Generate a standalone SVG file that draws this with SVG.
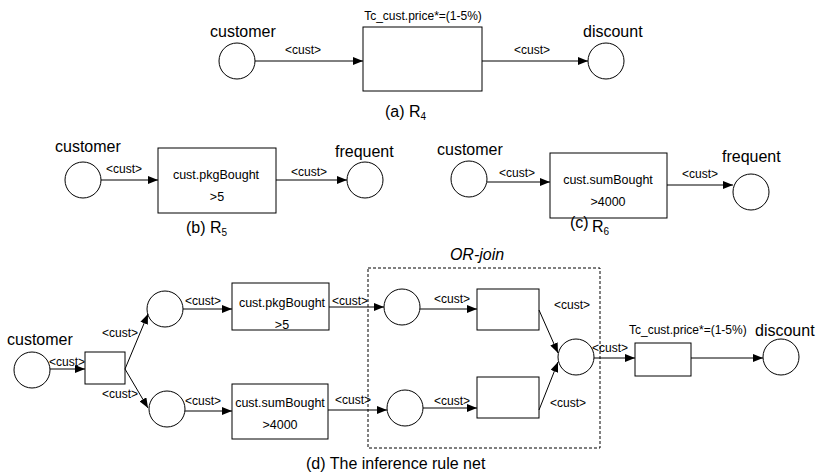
<svg xmlns="http://www.w3.org/2000/svg" width="820" height="475" viewBox="0 0 820 475">
<defs>
<marker id="ah" viewBox="0 0 10 8" refX="10" refY="4" markerWidth="10" markerHeight="8" markerUnits="userSpaceOnUse" orient="auto">
<path d="M0,0 L10,4 L0,8 Z" fill="#000"/>
</marker>
<style>
.pl{fill:#fff;stroke:#000;stroke-width:1}
.tr{fill:#fff;stroke:#000;stroke-width:1}
.ar{fill:none;stroke:#000;stroke-width:1;marker-end:url(#ah)}
.big{font-family:"Liberation Sans",Arial,sans-serif;font-size:16px;fill:#000}
.sm{font-family:"Liberation Sans",Arial,sans-serif;font-size:12px;fill:#000}
.in{font-family:"Liberation Sans",Arial,sans-serif;font-size:12.5px;fill:#000;text-anchor:middle}
.c{text-anchor:middle}
.sub{font-size:10px}
.dash{fill:none;stroke:#000;stroke-width:1;stroke-dasharray:3,2}
</style>
</defs>
<rect width="820" height="475" fill="#fff"/>

<!-- (a) -->
<g id="a-customer"><circle class="pl" cx="237" cy="61" r="18"/><text class="big" x="210" y="37">customer</text></g>
<g id="a-t"><rect class="tr" x="363" y="27" width="119" height="64"/><text class="sm c" x="423" y="20">Tc_cust.price*=(1-5%)</text></g>
<g id="a-discount"><circle class="pl" cx="606" cy="61" r="18"/><text class="big" x="583" y="37">discount</text></g>
<g id="a-edges">
<path class="ar" d="M255,61 L363,61"/><text class="sm c" x="303" y="54">&lt;cust&gt;</text>
<path class="ar" d="M482,61 L588,61"/><text class="sm c" x="532" y="54">&lt;cust&gt;</text>
</g>
<text class="big" x="385" y="117">(a) R<tspan class="sub" dy="3">4</tspan></text>

<!-- (b) -->
<g id="b-customer"><circle class="pl" cx="83" cy="180" r="18"/><text class="big" x="55" y="152">customer</text></g>
<g id="b-t"><rect class="tr" x="158" y="148" width="118" height="65"/><text class="in" x="216" y="179">cust.pkgBought</text><text class="in" x="217" y="201">&gt;5</text></g>
<g id="b-frequent"><circle class="pl" cx="365" cy="180" r="18"/><text class="big" x="335" y="157">frequent</text></g>
<g id="b-edges">
<path class="ar" d="M101,180 L158,180"/><text class="sm c" x="124" y="173">&lt;cust&gt;</text>
<path class="ar" d="M276,180 L347,180"/><text class="sm c" x="309" y="176">&lt;cust&gt;</text>
</g>
<text class="big" x="186" y="233">(b)  R<tspan class="sub" dy="3">5</tspan></text>

<!-- (c) -->
<g id="c-customer"><circle class="pl" cx="469" cy="179" r="18"/><text class="big" x="437" y="155">customer</text></g>
<g id="c-t"><rect class="tr" x="550" y="153" width="117" height="65"/><text class="in" x="608" y="184">cust.sumBought</text><text class="in" x="608" y="206">&gt;4000</text></g>
<g id="c-frequent"><circle class="pl" cx="751" cy="192" r="18"/><text class="big" x="722" y="162">frequent</text></g>
<g id="c-edges">
<path class="ar" d="M487,182 L550,182"/><text class="sm c" x="517" y="177">&lt;cust&gt;</text>
<path class="ar" d="M667,185 L733,185"/><text class="sm c" x="700" y="178">&lt;cust&gt;</text>
</g>
<text class="big" x="570" y="228">(c)</text><text class="big" x="592" y="232">R<tspan class="sub" dy="3">6</tspan></text>

<!-- (d) -->
<g id="d-orjoin"><rect class="dash" x="368" y="268" width="232" height="180"/><text class="big c" x="477" y="260" font-style="italic" font-size="15">OR-join</text></g>
<g id="d-customer"><circle class="pl" cx="32" cy="370" r="18"/><text class="big" x="7" y="345">customer</text></g>
<g id="d-split"><rect class="tr" x="85" y="352" width="40" height="32"/></g>
<g id="d-p1"><circle class="pl" cx="165" cy="309" r="18"/></g>
<g id="d-p2"><circle class="pl" cx="167" cy="409" r="18"/></g>
<g id="d-t1"><rect class="tr" x="232" y="283" width="97" height="47"/><text class="in" x="282" y="307">cust.pkgBought</text><text class="in" x="282" y="329">&gt;5</text></g>
<g id="d-t2"><rect class="tr" x="232" y="384" width="96" height="55"/><text class="in" x="280" y="407">cust.sumBought</text><text class="in" x="280" y="429">&gt;4000</text></g>
<g id="d-p3"><circle class="pl" cx="402" cy="307" r="18"/></g>
<g id="d-p4"><circle class="pl" cx="405" cy="408" r="18"/></g>
<g id="d-t3"><rect class="tr" x="477" y="289" width="62" height="41"/></g>
<g id="d-t4"><rect class="tr" x="477" y="377" width="62" height="41"/></g>
<g id="d-merge"><circle class="pl" cx="576" cy="357" r="18"/></g>
<g id="d-t5"><rect class="tr" x="635" y="343" width="56" height="33"/><text class="sm" x="629" y="334">Tc_cust.price*=(1-5%)</text></g>
<g id="d-discount"><circle class="pl" cx="781" cy="357" r="18"/><text class="big" x="755" y="336">discount</text></g>
<g id="d-edges">
<path class="ar" d="M50,369 L85,369"/><text class="sm c" x="67" y="366">&lt;cust&gt;</text>
<path class="ar" d="M125,369 L148,314"/><text class="sm c" x="120" y="337">&lt;cust&gt;</text>
<path class="ar" d="M125,369 L148,408"/><text class="sm c" x="120" y="398">&lt;cust&gt;</text>
<path class="ar" d="M183,309 L232,309"/><text class="sm c" x="203" y="305">&lt;cust&gt;</text>
<path class="ar" d="M185,411 L232,411"/><text class="sm c" x="203" y="405">&lt;cust&gt;</text>
<path class="ar" d="M329,307 L384,307"/><text class="sm c" x="350" y="305">&lt;cust&gt;</text>
<path class="ar" d="M328,410 L387,410"/><text class="sm c" x="353" y="404">&lt;cust&gt;</text>
<path class="ar" d="M420,309 L477,309"/><text class="sm c" x="452" y="303">&lt;cust&gt;</text>
<path class="ar" d="M423,408 L477,408"/><text class="sm c" x="452" y="405">&lt;cust&gt;</text>
<path class="ar" d="M539,310 L558,353"/><text class="sm c" x="572" y="309">&lt;cust&gt;</text>
<path class="ar" d="M539,410 L558,362"/><text class="sm c" x="568" y="407">&lt;cust&gt;</text>
<path class="ar" d="M594,358 L635,358"/><text class="sm c" x="610" y="352">&lt;cust&gt;</text>
<path class="ar" d="M691,358 L763,358"/>
</g>
<text class="big" x="306" y="469" font-size="16.5">(d) The inference rule net</text>
</svg>
